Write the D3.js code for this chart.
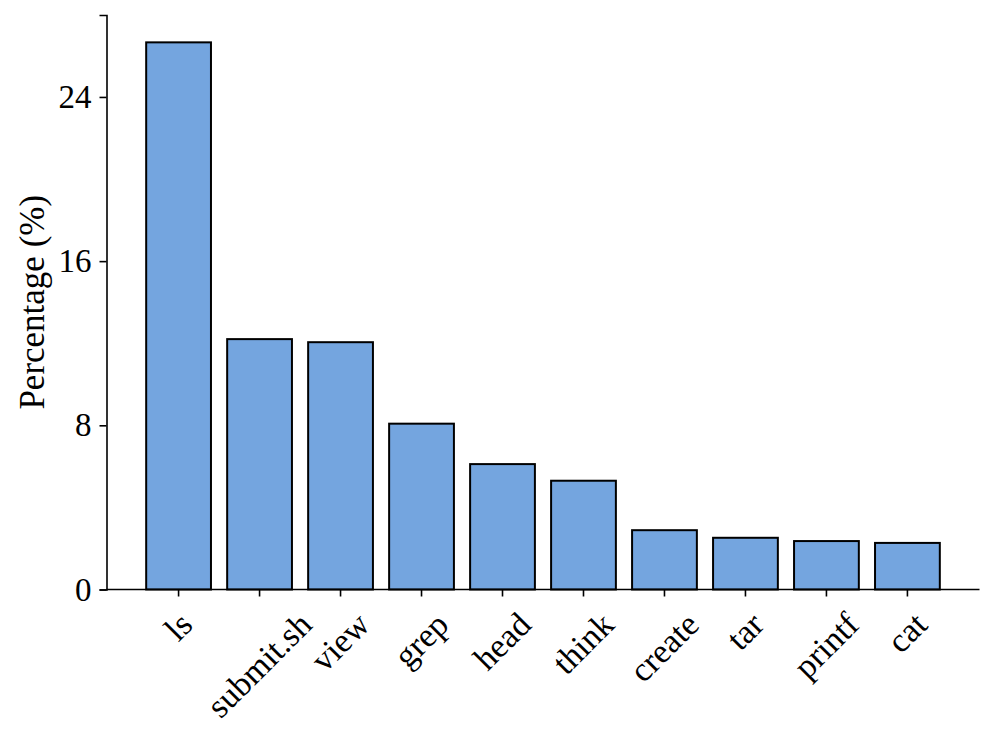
<!DOCTYPE html>
<html>
<head>
<meta charset="utf-8">
<script src="https://cdn.jsdelivr.net/npm/d3@7"></script>
<style>
  body { margin: 0; background: #fff; }
  text { font-family: "Liberation Serif", "DejaVu Serif", serif; fill: #000; }
</style>
</head>
<body>
<div id="svg-container"></div>
<script>
var w = 996;
var h = 743;

// data
var commands = ["ls", "submit.sh", "view", "grep", "head", "think", "create", "tar", "printf", "cat"];
var percents = [26.66, 12.2, 12.05, 8.08, 6.11, 5.3, 2.89, 2.52, 2.36, 2.27];
var yTicks = [0, 8, 16, 24];

var plotLeft = 106.5;
var plotRight = 979.5;
var plotTop = 15;
var plotBottom = 589.5;
var fontSize = 33;
var labelFontSize = 34;

var svg = d3.select("#svg-container")
    .append("svg")
    .attr("width", w)
    .attr("height", h);

var xScale = d3.scaleBand()
    .domain(commands)
    .range([plotLeft, plotRight])
    .paddingInner(0.2)
    .paddingOuter(0.49);

var yScale = d3.scaleLinear()
    .domain([0, d3.max(percents) * 1.05])
    .range([plotBottom, plotTop]);

// bars
svg.append("g")
    .selectAll("rect")
    .data(percents)
    .enter()
    .append("rect")
    .attr("x", function(d, i) { return xScale(commands[i]); })
    .attr("y", function(d) { return yScale(d); })
    .attr("width", xScale.bandwidth())
    .attr("height", function(d) { return plotBottom - yScale(d); })
    .style("fill", "#74a5df")
    .style("stroke", "#000")
    .style("stroke-width", 2);

// y axis
var yAxis = svg.append("g")
    .attr("transform", "translate(" + plotLeft + ",0)")
    .call(d3.axisLeft(yScale).tickValues(yTicks).tickSize(7).tickPadding(8));
yAxis.select(".domain").attr("stroke-width", 1.6);
yAxis.selectAll(".tick line").attr("stroke-width", 1.6);
yAxis.selectAll("text")
    .style("font-size", fontSize + "px")
    .style("font-family", "Liberation Serif, serif");

// x axis (labels placed by hand below)
var xAxis = svg.append("g")
    .attr("transform", "translate(0," + plotBottom + ")")
    .call(d3.axisBottom(xScale).tickSize(7).tickFormat(""));
xAxis.select(".domain")
    .attr("d", "M" + plotLeft + ",0H" + plotRight)
    .attr("stroke-width", 1.6);
xAxis.selectAll(".tick line").attr("stroke-width", 1.6);

// rotated labels, bbox centred on the tick, top aligned
var labelTop = 607;
var labels = svg.append("g")
    .selectAll("text")
    .data(commands)
    .enter()
    .append("text")
    .text(function(d) { return d; })
    .style("font-size", labelFontSize + "px")
    .attr("text-anchor", "middle")
    .attr("dy", "0.32em");

labels.attr("transform", function(d) {
    var tw = this.getComputedTextLength();
    var th = labelFontSize * 1.0;
    var half = (tw + th) / (2 * Math.SQRT2);
    var cx = xScale(d) + xScale.bandwidth() / 2;
    return "translate(" + cx + "," + (labelTop + half) + ") rotate(-45)";
});

// y label
svg.append("text")
    .attr("transform", "translate(32," + ((plotTop + plotBottom) / 2) + ") rotate(-90)")
    .attr("text-anchor", "middle")
    .attr("dy", "0.35em")
    .style("font-size", "35px")
    .text("Percentage (%)");
</script>
</body>
</html>
